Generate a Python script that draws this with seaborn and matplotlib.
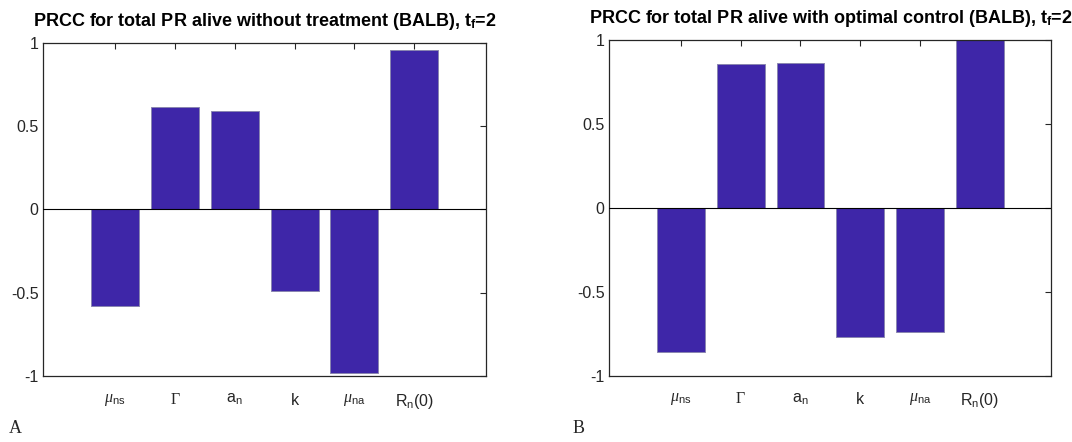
"""PRCC bar charts for total PR alive (BALB), with and without treatment."""
import matplotlib
matplotlib.use("Agg")
import matplotlib.pyplot as plt
import pandas as pd
import seaborn as sns

params = [r"$\mu_{\mathsf{ns}}$", r"$\Gamma$", r"$\mathsf{a}_{\mathsf{n}}$",
          r"$\mathsf{k}$", r"$\mu_{\mathsf{na}}$", r"$\mathsf{R}_{\mathsf{n}}\mathsf{(0)}$"]
prcc_no_treatment = [-0.58, 0.613, 0.589, -0.489, -0.982, 0.958]
prcc_optimal = [-0.855, 0.853, 0.861, -0.768, -0.738, 0.999]

titles = [r"PRCC for total PR alive without treatment (BALB), t$_{\mathbf{f}}$=2",
          r"PRCC for total PR alive with optimal control (BALB), t$_{\mathbf{f}}$=2"]
panel_tags = ["A", "B"]

BAR_COLOR = "#3E26A8"

sns.set_style("white")
plt.rcParams["font.family"] = ["Liberation Sans", "DejaVu Sans"]
plt.rcParams["mathtext.fontset"] = "custom"
plt.rcParams["mathtext.rm"] = "Liberation Serif"
plt.rcParams["mathtext.it"] = "Liberation Serif:italic"
plt.rcParams["mathtext.sf"] = "Liberation Sans"
plt.rcParams["mathtext.bf"] = "Liberation Sans:bold"


def draw_panel(ax, values, title):
    df = pd.DataFrame({"param": params, "prcc": values})
    sns.barplot(data=df, x="param", y="prcc", order=params, color=BAR_COLOR,
                saturation=1, width=0.8, edgecolor="#8a86b0", linewidth=0.7, ax=ax)
    ax.axhline(0, color="black", lw=0.8, zorder=3)
    ax.set_xlim(-1.2, 6.2)
    ax.set_ylim(-1, 1)
    ax.set_yticks([-1, -0.5, 0, 0.5, 1])
    ax.set_yticklabels(["-1", "-0.5", "0", "0.5", "1"])
    ax.set_xlabel("")
    ax.set_ylabel("")
    ax.tick_params(axis="both", direction="in", length=4, width=0.8,
                   top=True, right=True, labelsize=11.5, colors="#262626")
    ax.tick_params(axis="x", pad=11)
    for s in ax.spines.values():
        s.set_visible(True)
        s.set_linewidth(0.9)
        s.set_color("#262626")
    ax.set_title(title, fontsize=13, fontweight="bold", pad=12, color="black")


fig = plt.figure(figsize=(10.72, 4.42), dpi=100)
ax_a = fig.add_axes([0.0404, 0.1487, 0.413, 0.7547])
ax_b = fig.add_axes([0.5684, 0.1493, 0.4123, 0.761])

draw_panel(ax_a, prcc_no_treatment, titles[0])
draw_panel(ax_b, prcc_optimal, titles[1])

fig.text(0.008, 0.02, panel_tags[0], family="Liberation Serif", fontsize=13)
fig.text(0.534, 0.02, panel_tags[1], family="Liberation Serif", fontsize=13)

fig.savefig("out.png", dpi=100)
